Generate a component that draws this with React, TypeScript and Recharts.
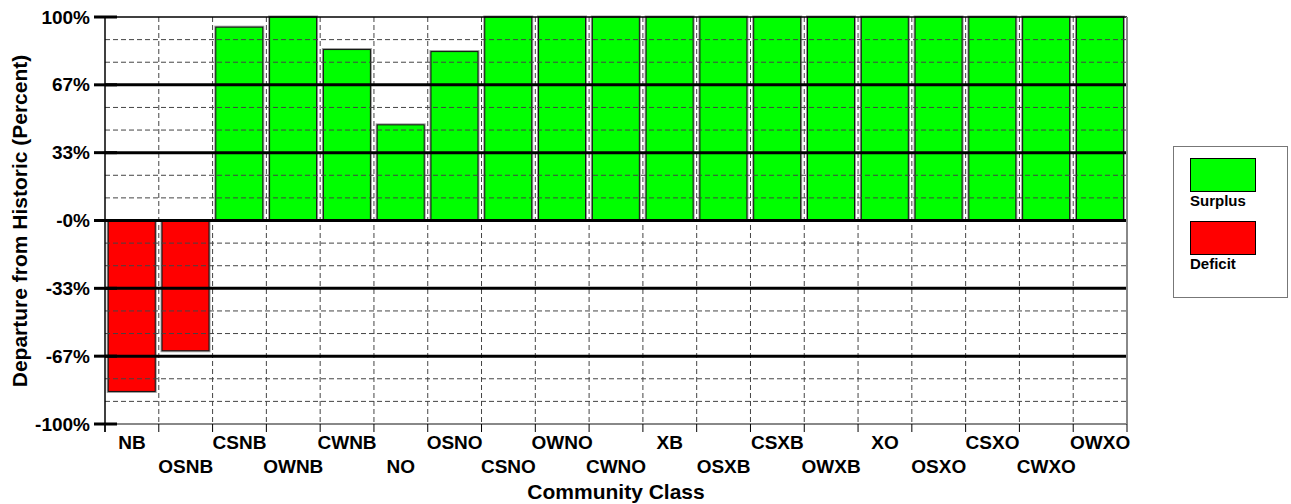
import { BarChart, Bar, XAxis, YAxis, CartesianGrid, ReferenceLine } from "recharts";

const categories = [
  "NB", "OSNB", "CSNB", "OWNB", "CWNB", "NO", "OSNO", "CSNO", "OWNO", "CWNO",
  "XB", "OSXB", "CSXB", "OWXB", "XO", "OSXO", "CSXO", "CWXO", "OWXO",
];
const departures = [-84, -64, 95, 100, 84, 47, 83, 100, 100, 100, 100, 100, 100, 100, 100, 100, 100, 100, 100];

const yTickValues = [-100, -66.667, -33.333, 0, 33.333, 66.667, 100];
const yTickLabels = ["-100%", "-67%", "-33%", "-0%", "33%", "67%", "100%"];
const majorLines = [-66.667, -33.333, 0, 33.333, 66.667];

const seriesNames = ["Surplus", "Deficit"];
const seriesColors = ["#00ff00", "#ff0000"];

const data = categories.map((c, i) => ({
  name: c,
  surplus: departures[i] > 0 ? departures[i] : 0,
  deficit: departures[i] < 0 ? departures[i] : 0,
}));

// dashed minor lines, thirds between major ticks
const minorLines: number[] = [];
for (let i = 0; i < yTickValues.length - 1; i++) {
  const a = yTickValues[i];
  const step = (yTickValues[i + 1] - a) / 3;
  minorLines.push(a + step, a + 2 * step);
}

const FONT = "'Liberation Sans', Arial, sans-serif";
const W = 1291;
const H = 504;
const PLOT_LEFT = 105;
const PLOT_RIGHT = 1127;
const PLOT_TOP = 17;
const PLOT_BOTTOM = 424;
const STEP = (PLOT_RIGHT - PLOT_LEFT) / categories.length;

const BarShape = (props: any) => {
  let { x, y, width, height, fill } = props;
  if (!height || !width) return null;
  if (height < 0) {
    y += height;
    height = -height;
  }
  return (
    <g>
      <rect x={x} y={y} width={width} height={height} fill={fill} stroke="#9a9a9a" strokeWidth={3} />
      <rect x={x} y={y} width={width} height={height} fill={fill} stroke="#111" strokeWidth={1} />
    </g>
  );
};

const YTick = (props: any) => {
  const { y, index } = props;
  return (
    <g>
      <line x1={94} x2={117} y1={y} y2={y} stroke="#000" strokeWidth={3} />
      <text x={90} y={y} textAnchor="end" dominantBaseline="central" fontFamily={FONT} fontWeight="bold" fontSize={19} fill="#000">
        {yTickLabels[index]}
      </text>
    </g>
  );
};

const XTick = (props: any) => {
  const { x, index, payload } = props;
  const bx = x - STEP / 2;
  const row = index % 2 === 0 ? 442 : 466;
  return (
    <g>
      <line x1={bx} x2={bx} y1={PLOT_BOTTOM} y2={432} stroke="#000" strokeWidth={1} />
      {index === categories.length - 1 && (
        <line x1={x + STEP / 2} x2={x + STEP / 2} y1={PLOT_BOTTOM} y2={432} stroke="#000" strokeWidth={1} />
      )}
      <text x={x} y={row} textAnchor="middle" dominantBaseline="central" fontFamily={FONT} fontWeight="bold" fontSize={19} fill="#000">
        {payload.value}
      </text>
    </g>
  );
};

const LegendBox = () => (
  <div
    style={{
      position: "absolute",
      left: 1173,
      top: 146,
      width: 113,
      height: 150,
      border: "1px solid #777",
      background: "#fff",
      fontFamily: FONT,
      fontWeight: "bold",
      fontSize: 15,
    }}
  >
    {seriesNames.map((n, i) => (
      <div key={n} style={{ position: "absolute", left: 16, top: 11 + i * 63 }}>
        <div style={{ width: 64, height: 32, background: seriesColors[i], border: "1px solid #000" }} />
        <div style={{ marginTop: 0, lineHeight: "17px" }}>{n}</div>
      </div>
    ))}
  </div>
);

export default function App() {
  return (
    <div style={{ position: "absolute", left: 0, top: 0, width: W, height: H, background: "#fff" }}>
      <BarChart
        width={W}
        height={H}
        data={data}
        margin={{ top: PLOT_TOP, right: W - PLOT_RIGHT, bottom: 0, left: 0 }}
        barCategoryGap="6%"
      >
        <CartesianGrid
          horizontal={false}
          stroke="#444"
          strokeDasharray="5 3"
          verticalCoordinatesGenerator={({ offset }: any) =>
            categories.map((_, i) => offset.left + (i + 1) * (offset.width / categories.length))
          }
        />
        <XAxis
          dataKey="name"
          interval={0}
          height={H - PLOT_BOTTOM}
          axisLine={{ stroke: "#888", strokeWidth: 2 }}
          tickLine={false}
          tick={<XTick />}
          label={{
            value: "Community Class",
            position: "insideBottom",
            offset: 5,
            style: { fontFamily: FONT, fontWeight: "bold", fontSize: 21, fill: "#000" },
          }}
        />
        <YAxis
          type="number"
          domain={[-100, 100]}
          ticks={yTickValues}
          width={PLOT_LEFT}
          axisLine={false}
          tickLine={false}
          tick={<YTick />}
        />
        <Bar dataKey="surplus" name={seriesNames[0]} stackId="a" fill={seriesColors[0]} shape={<BarShape />} isAnimationActive={false} />
        <Bar dataKey="deficit" name={seriesNames[1]} stackId="a" fill={seriesColors[1]} shape={<BarShape />} isAnimationActive={false} />
        {minorLines.map((v) => (
          <ReferenceLine key={"m" + v} y={v} stroke="#444" strokeDasharray="5 3" strokeWidth={1} />
        ))}
        {majorLines.map((v) => (
          <ReferenceLine key={"M" + v} y={v} stroke="#000" strokeWidth={3} />
        ))}
        <ReferenceLine y={100} stroke="#000" strokeWidth={1.5} />
      </BarChart>
      <svg style={{ position: "absolute", left: 0, top: 0, pointerEvents: "none" }} width={W} height={H}>
        <line x1={PLOT_LEFT} x2={PLOT_LEFT} y1={PLOT_TOP} y2={432} stroke="#000" strokeWidth={1.5} />
        <line x1={PLOT_RIGHT} x2={PLOT_RIGHT} y1={PLOT_TOP} y2={PLOT_BOTTOM} stroke="#888" strokeWidth={2} />
        <text
          x={27}
          y={221}
          transform="rotate(-90, 27, 221)"
          textAnchor="middle"
          fontFamily={FONT}
          fontWeight="bold"
          fontSize={21}
          fill="#000"
        >
          Departure from Historic (Percent)
        </text>
      </svg>
      <LegendBox />
    </div>
  );
}
